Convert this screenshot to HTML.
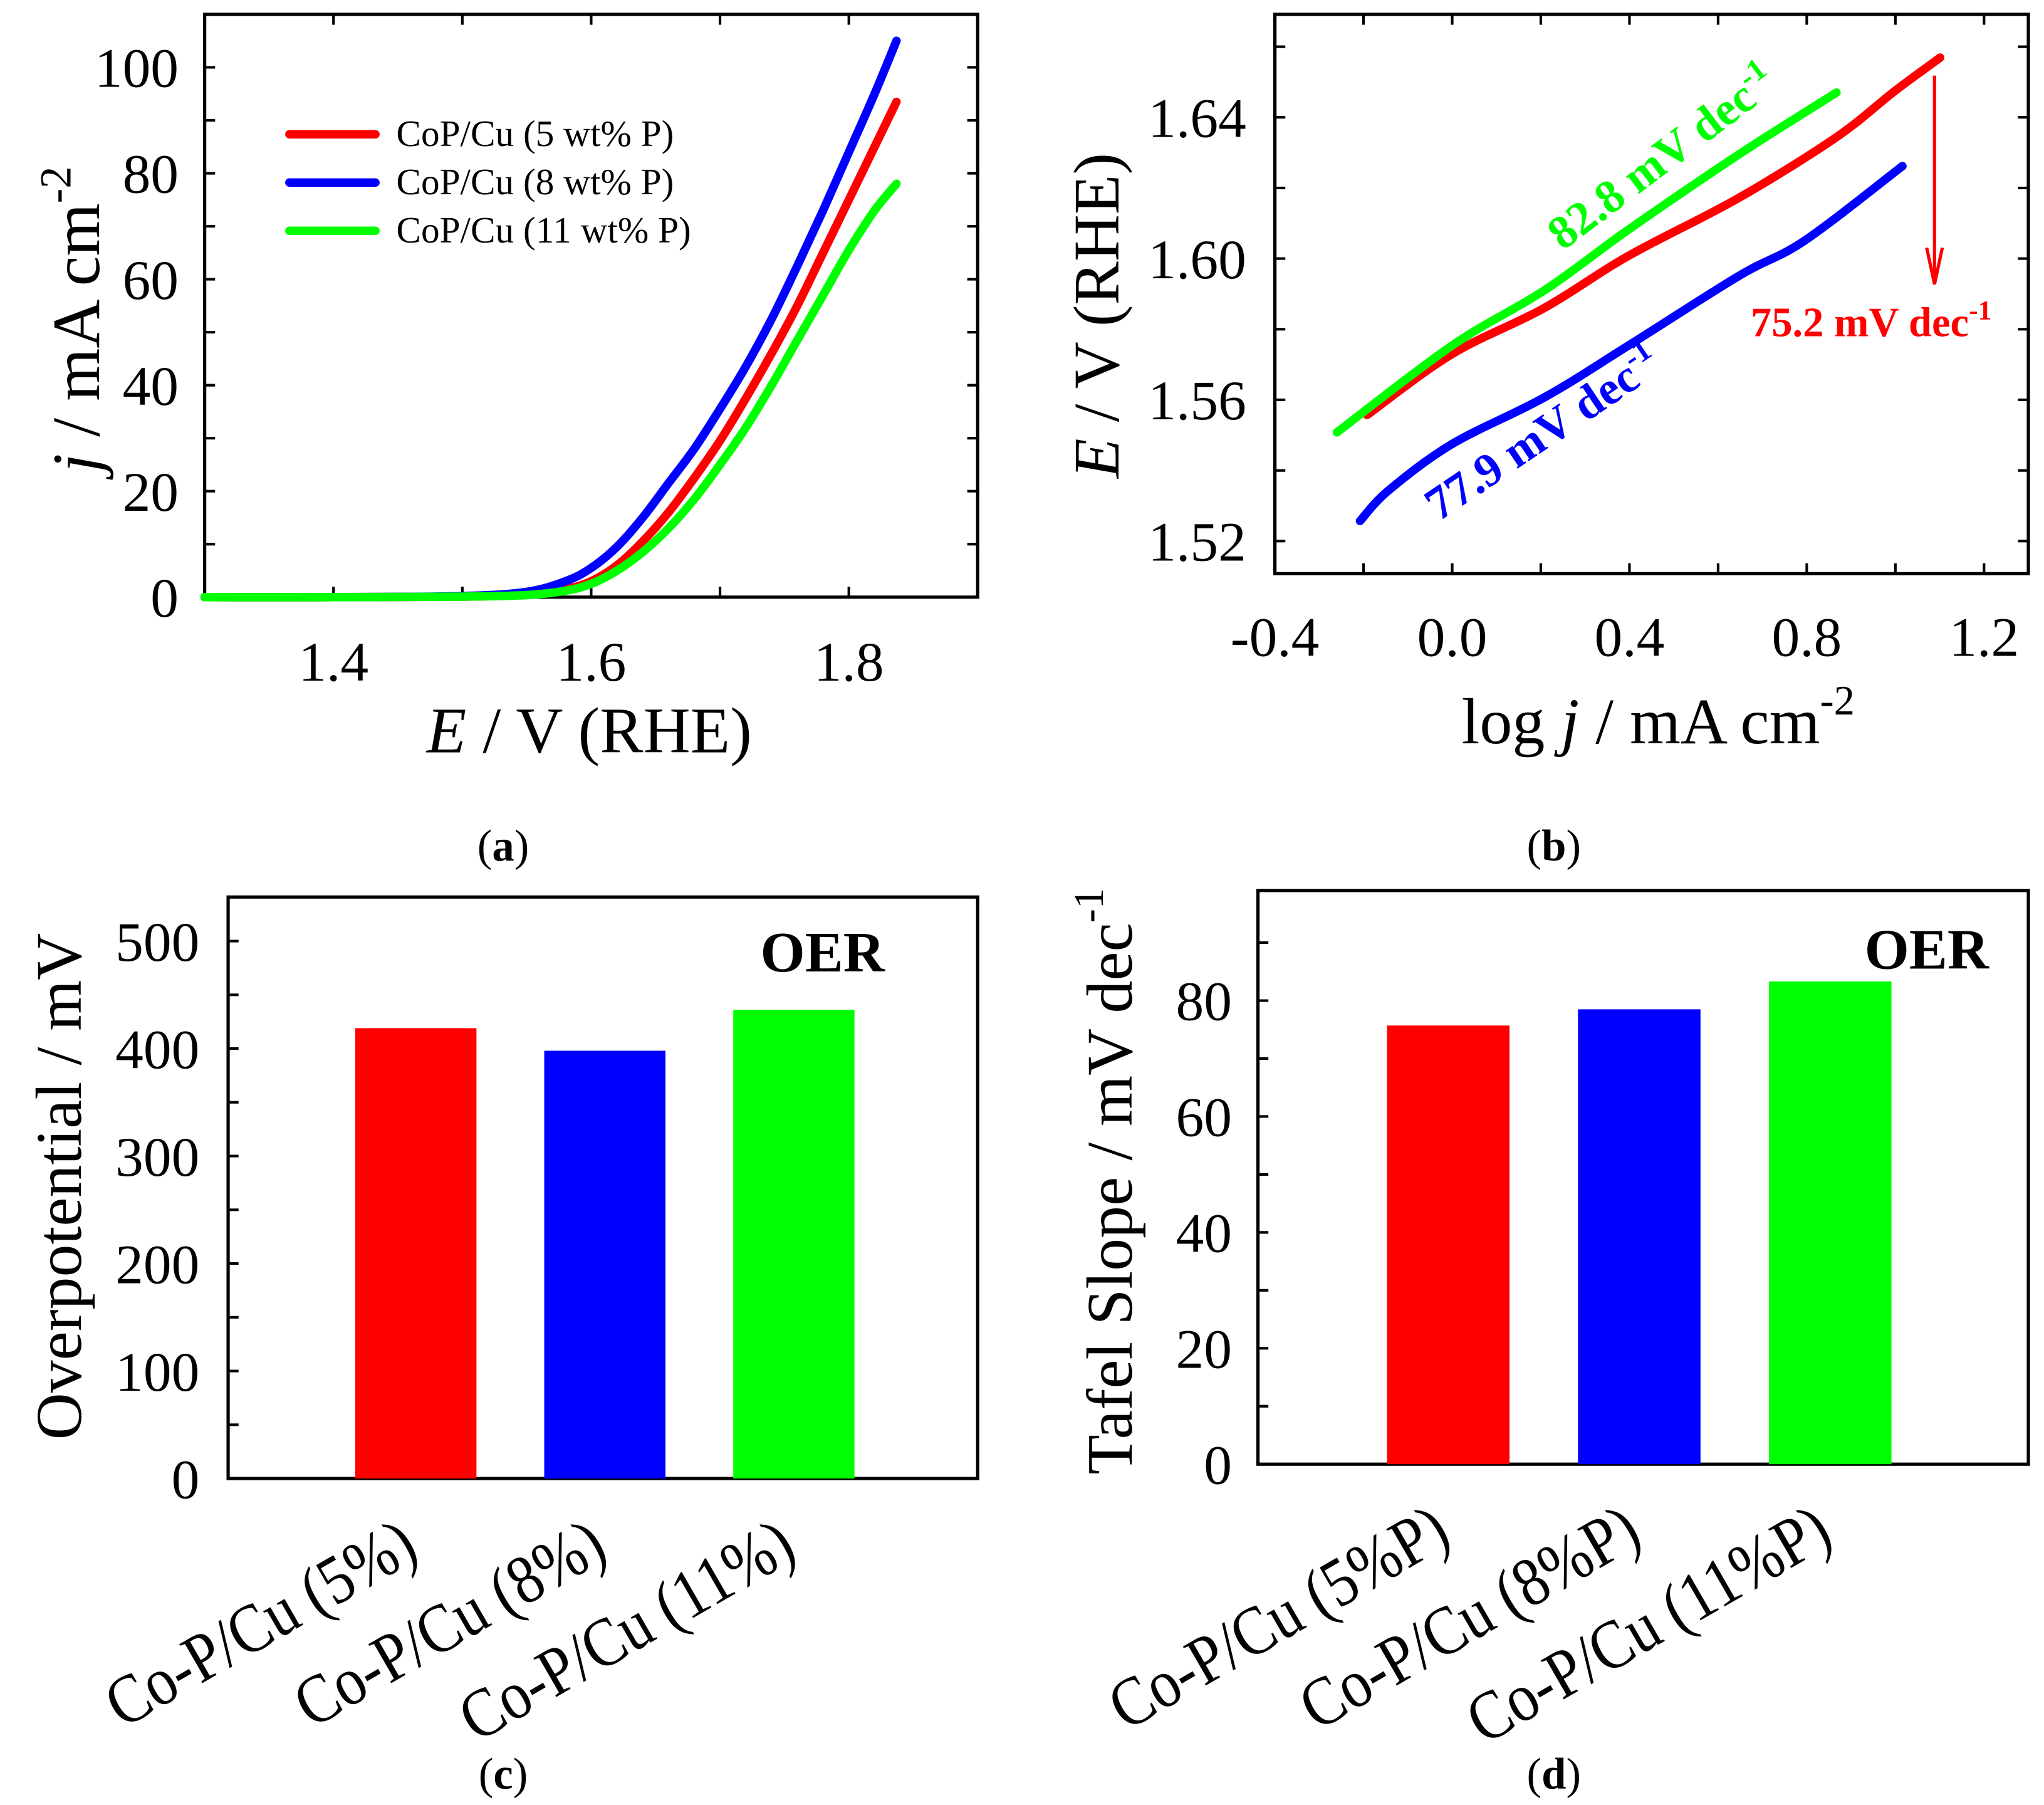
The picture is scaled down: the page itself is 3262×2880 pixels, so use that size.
<!DOCTYPE html>
<html><head><meta charset="utf-8"><style>
html,body{margin:0;padding:0;background:#fff;}
svg{display:block;}
text{font-family:"Liberation Serif",serif;fill:#000;}
</style></head><body>
<svg id="fig" width="3262" height="2880" viewBox="0 0 1568 1384.4" preserveAspectRatio="none" xmlns="http://www.w3.org/2000/svg"></svg>
<script>
// ---- Panel (a) data: LSV curves ----
const aE = [1.30,1.40,1.50,1.55,1.58,1.60,1.62,1.64,1.66,1.68,1.70,1.72,1.74,1.76,1.78,1.80,1.82,1.837];
const aRed = [0,0,0.1,0.5,1.5,3,6,10.5,16,22.5,29.5,37.5,46,55,65,75,85,93.5];
const aBlue = [0,0,0.2,1,3,5.5,9.5,15,21.5,28,35.5,43.5,52.5,62.5,73,84,95,105];
const aGreen = [0,0,0.1,0.4,1.2,2.5,5,8.5,13,18.5,25,32,40,48.5,57,65.5,73,78];
const aXTicks = [1.4,1.6,1.8];
const aYTicks = [0,20,40,60,80,100];
const legendLabels = ["CoP/Cu (5 wt% P)","CoP/Cu (8 wt% P)","CoP/Cu (11 wt% P)"];
// ---- Panel (b) data: Tafel plots ----
const bRedX = [-0.192,0.0,0.208,0.398,0.647,0.867,0.999,1.101];
const bRedY = [1.5557,1.573,1.586,1.6008,1.6172,1.6344,1.6475,1.6569];
const bBlueX = [-0.208,-0.143,0.0,0.208,0.398,0.647,0.794,1.016];
const bBlueY = [1.5257,1.5344,1.5475,1.5607,1.5754,1.5951,1.605,1.6262];
const bGreenX = [-0.26,0.0,0.208,0.398,0.647,0.867];
const bGreenY = [1.5508,1.5754,1.591,1.6082,1.6295,1.647];
const bXTicks = [-0.4,0.0,0.4,0.8,1.2];
const bYTicks = [1.52,1.56,1.60,1.64];
// ---- Panel (c) data ----
const cCats = ["Co-P/Cu (5%)","Co-P/Cu (8%)","Co-P/Cu (11%)"];
const cVals = [419,398,436];
const cYTicks = [0,100,200,300,400,500];
// ---- Panel (d) data ----
const dCats = ["Co-P/Cu (5%P)","Co-P/Cu (8%P)","Co-P/Cu (11%P)"];
const dVals = [75.7,78.5,83.3];
const dYTicks = [0,20,40,60,80];
const colors = ["#ff0000","#0000ff","#00ff00"];

const NS="http://www.w3.org/2000/svg";
const svg=document.getElementById('fig');
function mk(tag,attrs,parent){const e=document.createElementNS(NS,tag);for(const k in attrs)e.setAttribute(k,attrs[k]);(parent||svg).appendChild(e);return e;}
function lin(d0,d1,r0,r1){return v=>r0+(v-d0)*(r1-r0)/(d1-d0);}
function txt(s,attrs,parent){const t=mk('text',attrs,parent);t.textContent=s;return t;}
function smooth(pts){let d='M'+pts[0][0].toFixed(1)+','+pts[0][1].toFixed(1);
  for(let i=0;i<pts.length-1;i++){const p0=pts[Math.max(i-1,0)],p1=pts[i],p2=pts[i+1],p3=pts[Math.min(i+2,pts.length-1)];
    const c1=[p1[0]+(p2[0]-p0[0])/6,p1[1]+(p2[1]-p0[1])/6],c2=[p2[0]-(p3[0]-p1[0])/6,p2[1]-(p3[1]-p1[1])/6];
    d+='C'+c1[0].toFixed(1)+','+c1[1].toFixed(1)+' '+c2[0].toFixed(1)+','+c2[1].toFixed(1)+' '+p2[0].toFixed(1)+','+p2[1].toFixed(1);}
  return d;}

// ===== Panel a =====
(function(){
  const L=157,R=750,T=11,B=458;
  const x=lin(1.3,1.9,L,R), y=lin(0,110,B,T);
  const g=mk('g',{});
  
  
  const fr=mk('rect',{x:L,y:T,width:R-L,height:B-T,fill:'none',stroke:'#000','stroke-width':2.5},g);
  
  
  for(let v=1.4;v<1.89;v+=0.1){const px=x(v);
    mk('line',{x1:px,y1:B,x2:px,y2:B-8,stroke:'#000','stroke-width':2},g);
    mk('line',{x1:px,y1:T,x2:px,y2:T+8,stroke:'#000','stroke-width':2},g);}
  for(let v=10;v<=100;v+=10){const py=y(v);
    mk('line',{x1:L,y1:py,x2:L+8,y2:py,stroke:'#000','stroke-width':2},g);
    mk('line',{x1:R,y1:py,x2:R-8,y2:py,stroke:'#000','stroke-width':2},g);}
  aXTicks.forEach(v=>{const t=txt(v.toFixed(1),{x:x(v),y:522,'font-size':43,'text-anchor':'middle'},g);
    
    });
  aYTicks.forEach(v=>{const t=txt(String(v),{x:137,y:y(v)+15,'font-size':43,'text-anchor':'end'},g);
    
    });
  const series=[aRed,aBlue,aGreen];
  [0,1,2].forEach(i=>{const d=smooth(aE.map((e,k)=>[x(e),y(series[i][k])]));
    const p=mk('path',{d:d,fill:'none',stroke:colors[i],'stroke-width':6.5,'stroke-linecap':'round','stroke-linejoin':'round'},g);
    
    });
  [103,140,177].forEach((ly,i)=>{
    const l=mk('line',{x1:222,y1:ly,x2:288,y2:ly,stroke:colors[i],'stroke-width':6.5,'stroke-linecap':'round'},g);
    
    
    const t=txt(legendLabels[i],{x:304,y:ly+9,'font-size':28.5},g);
    
    });
  const yt=txt('',{transform:'translate(76,245) rotate(-90)','font-size':52,'text-anchor':'middle'},g);
  
  
  yt.innerHTML='<tspan font-style="italic">j</tspan> / mA cm<tspan font-size="34" dy="-22">-2</tspan>';
  const xt=txt('',{x:452,y:577,'font-size':50,'text-anchor':'middle'},g);
  
  
  xt.innerHTML='<tspan font-style="italic">E</tspan> / V (RHE)';
  const cap=txt('',{x:386,y:660,'font-size':34,'text-anchor':'middle'},g);
  
  
  cap.innerHTML='(<tspan font-weight="bold">a</tspan>)';
})();

// ===== Panel b =====
(function(){
  const L=978,R=1556,T=11,B=440;
  const x=lin(-0.4,1.3,L,R), y=lin(1.52,1.64,415,90);
  const g=mk('g',{});
  
  
  const fr=mk('rect',{x:L,y:T,width:R-L,height:B-T,fill:'none',stroke:'#000','stroke-width':2.5},g);
  
  
  for(let v=-0.2;v<1.29;v+=0.2){const px=x(v);
    mk('line',{x1:px,y1:B,x2:px,y2:B-8,stroke:'#000','stroke-width':2},g);
    mk('line',{x1:px,y1:T,x2:px,y2:T+8,stroke:'#000','stroke-width':2},g);}
  for(let v=1.52;v<1.665;v+=0.02){const py=y(v);
    mk('line',{x1:L,y1:py,x2:L+8,y2:py,stroke:'#000','stroke-width':2},g);
    mk('line',{x1:R,y1:py,x2:R-8,y2:py,stroke:'#000','stroke-width':2},g);}
  bXTicks.forEach(v=>{const t=txt(v.toFixed(1),{x:x(v),y:503,'font-size':43,'text-anchor':'middle'},g);
    
    });
  bYTicks.forEach(v=>{const t=txt(v.toFixed(2),{x:956,y:y(v)+15,'font-size':43,'text-anchor':'end'},g);
    
    });
  const sx=[bRedX,bBlueX,bGreenX], sy=[bRedY,bBlueY,bGreenY];
  [0,1,2].forEach(i=>{const d=smooth(sx[i].map((v,k)=>[x(v),y(sy[i][k])]));
    const p=mk('path',{d:d,fill:'none',stroke:colors[i],'stroke-width':6.5,'stroke-linecap':'round','stroke-linejoin':'round'},g);
    
    });
  const gl=txt('',{transform:'translate(1282,130) rotate(-37)','font-size':36,'font-weight':'bold','text-anchor':'middle'},g);
  
  
  gl.innerHTML='<tspan fill="#00ff00">82.8 mV dec</tspan><tspan fill="#00ff00" font-size="24" dy="-14">-1</tspan>';
  const bl=txt('',{transform:'translate(1190,342) rotate(-34)','font-size':36,'font-weight':'bold','text-anchor':'middle'},g);
  
  
  bl.innerHTML='<tspan fill="#0000ff">77.9 mV dec</tspan><tspan fill="#0000ff" font-size="24" dy="-14">-1</tspan>';
  const rl=txt('',{x:1343,y:258,'font-size':32,'font-weight':'bold'},g);
  
  
  rl.innerHTML='<tspan fill="#ff0000">75.2 mV dec</tspan><tspan fill="#ff0000" font-size="21" dy="-13">-1</tspan>';
  const ar=mk('path',{d:'M1484,58 L1484,216 M1478,190 L1484,218 L1490,190',fill:'none',stroke:'#ff0000','stroke-width':2.5},g);
  
  
  const yt=txt('',{transform:'translate(858,242) rotate(-90)','font-size':50,'text-anchor':'middle'},g);
  
  
  yt.innerHTML='<tspan font-style="italic">E</tspan> / V (RHE)';
  const xt=txt('',{x:1272,y:570,'font-size':50,'text-anchor':'middle'},g);
  
  
  xt.innerHTML='log <tspan font-style="italic">j</tspan> / mA cm<tspan font-size="32" dy="-22">-2</tspan>';
  const cap=txt('',{x:1192,y:660,'font-size':34,'text-anchor':'middle'},g);
  
  
  cap.innerHTML='(<tspan font-weight="bold">b</tspan>)';
})();

// ===== Bar panels =====
function barPanel(o){
  const g=mk('g',{});
  
  
  const y=lin(0,o.ymax,o.B,o.T);
  const fr=mk('rect',{x:o.L,y:o.T,width:o.R-o.L,height:o.B-o.T,fill:'none',stroke:'#000','stroke-width':2.5},g);
  
  
  for(let v=o.minor;v<o.ymax;v+=o.minor){const py=y(v);
    mk('line',{x1:o.L,y1:py,x2:o.L+8,y2:py,stroke:'#000','stroke-width':2},g);}
  o.ticks.forEach(v=>{const t=txt(String(v),{x:o.labX,y:y(v)+15,'font-size':43,'text-anchor':'end'},g);
    
    });
  o.vals.forEach((v,i)=>{const cx=o.c0+i*o.step;
    const r=mk('rect',{x:cx-o.bw/2,y:y(v),width:o.bw,height:o.B-y(v),fill:colors[i]},g);
    
    
    const t=txt(o.cats[i],{transform:'translate('+(cx+4)+','+(o.B+60)+') rotate(-30) scale(1,1.15)','font-size':46,'text-anchor':'end'},g);
    
    });
  const oe=txt('OER',{x:o.oerX,y:o.oerY,'font-size':44,'font-weight':'bold','text-anchor':'middle'},g);
  
  
  const yt=txt('',{transform:'translate('+o.ytX+','+o.ytY+') rotate(-90)','font-size':50,'text-anchor':'middle'},g);
  
  
  yt.innerHTML=o.ytitle;
  const cap=txt('',{x:o.capX,y:1372,'font-size':34,'text-anchor':'middle'},g);
  
  
  cap.innerHTML='(<tspan font-weight="bold">'+o.id+'</tspan>)';
}
barPanel({name:'panel-c',id:'c',L:175,R:750,T:688,B:1134,ymax:541,minor:50,ticks:cYTicks,vals:cVals,cats:cCats,
  labX:153,c0:319,step:145,bw:93,oerX:631,oerY:745,ytX:62,ytY:910,ytitle:'Overpotential / mV',capX:386});
barPanel({name:'panel-d',id:'d',L:965,R:1556,T:683,B:1123,ymax:99,minor:10,ticks:dYTicks,vals:dVals,cats:dCats,
  labX:945,c0:1111,step:146.5,bw:94,oerX:1478,oerY:743,ytX:868,ytY:906,
  ytitle:'Tafel Slope / mV dec<tspan font-size="32" dy="-22">-1</tspan>',capX:1192});
</script>
</body></html>
